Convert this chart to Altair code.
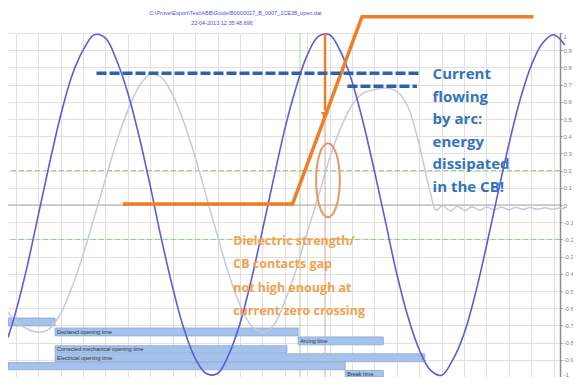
import altair as alt
import pandas as pd

# ---------------- data (time in ms, signals in p.u.) ----------------
t_current = [-0.7, 0, 1, 2, 3, 4, 5, 6, 7, 8, 9, 10, 11, 12, 13, 14, 15, 16, 17, 18, 19,
             20, 21, 22, 23, 24, 25, 26, 27, 28, 29, 30, 31, 32, 33, 34, 35, 36, 37, 38,
             39, 40, 41, 42, 43, 44, 45, 46, 47, 48, 49]
current = [-0.77, -0.62, -0.36, -0.06, 0.24, 0.52, 0.75, 0.90, 0.99, 0.97, 0.84, 0.65,
           0.40, 0.11, -0.20, -0.48, -0.72, -0.89, -0.98, -0.98, -0.87, -0.69, -0.44,
           -0.15, 0.15, 0.44, 0.68, 0.87, 0.98, 0.99, 0.89, 0.72, 0.48, 0.20, -0.10,
           -0.40, -0.65, -0.84, -0.96, -0.99, -0.90, -0.75, -0.52, -0.24, 0.06, 0.35,
           0.61, 0.81, 0.94, 0.99, 0.93]

t_voltage = [-0.7, 0, 1, 2, 3, 4, 5, 6, 7, 8, 9, 10, 11, 12, 13, 14, 15, 16, 17, 18, 19,
             20, 21, 22, 23, 24, 25, 26, 27, 28, 29, 30, 31, 32, 33, 34, 35, 36, 37, 37.5,
             38.1, 38.8, 39.4, 40.1, 40.7, 41.4, 42.0, 42.7, 43.3, 44.0, 44.6, 45.3, 45.9,
             46.6, 47.2, 47.9, 48.5, 49.0]
voltage = [-0.62, -0.68, -0.72, -0.74, -0.72, -0.63, -0.48, -0.29, -0.07, 0.15, 0.37,
           0.55, 0.69, 0.76, 0.74, 0.64, 0.48, 0.28, 0.05, -0.18, -0.40, -0.58, -0.70,
           -0.74, -0.70, -0.56, -0.38, -0.16, 0.05, 0.27, 0.45, 0.58, 0.65, 0.67, 0.68,
           0.66, 0.57, 0.35, 0.07, -0.03,
           -0.005, -0.035, -0.008, -0.032, -0.01, -0.03, -0.012, -0.028, -0.013, -0.027,
           -0.015, -0.025, -0.015, -0.025, -0.016, -0.024, -0.018, -0.02]

travel_t = [9.55, 24.7, 30.9, 46.2]
travel_v = [0.006, 0.006, 1.095, 1.095]

dash_t = [7.2, 29.6]
dash_t2 = [36.1, 35.8]
dash_v = [0.766, 0.69]

bar_labels = ["", "Declared opening time", "Arcing time",
              "Corrected mechanical opening time", "Electrical opening time", "", "Break time"]
bar_start = [-0.7, 3.5, 25.2, 3.5, 3.5, -0.7, 29.4]
bar_end = [3.5, 25.2, 32.8, 24.2, 36.5, 29.4, 32.8]
bar_top = [-0.657, -0.715, -0.767, -0.818, -0.865, -0.916, -0.962]
bar_bottom = [-0.703, -0.761, -0.813, -0.859, -0.911, -0.958, -1.0]

x_ticks = [0, 2, 4, 6, 8, 10, 12, 14, 16, 18, 20, 22, 24, 26, 28, 30, 32, 34, 36, 38, 40,
           42, 44, 46, 48]
y_ticks = [1, 0.9, 0.8, 0.7, 0.6, 0.5, 0.4, 0.3, 0.2, 0.1, 0, -0.1, -0.2, -0.3, -0.4,
           -0.5, -0.6, -0.7, -0.8, -0.9, -1]

title_lines = [r"C:\Prove\Export\Test\ABB\Guide\B0000017_B_0007_1CE38_open.dat",
               "22-04-2013 12:35:48.696"]
title_t = [19.6, 18.4]
title_v = [1.116, 1.058]

blue_note = "Current\nflowing\nby arc:\nenergy\ndissipated\nin the CB!"
orange_note = "Dielectric strength/\nCB contacts gap\nnot high enough at\ncurrent zero crossing"

# ---------------- styling ----------------
BLUE = "#5c5cd8"
GRAY = "#c8c8dc"
ORANGE = "#f07d28"
STEEL = "#2d62b0"

xs = alt.Scale(domain=[-0.7, 48.57], nice=False, zero=False)
ys = alt.Scale(domain=[-1, 1], nice=False, zero=False)
x_axis = alt.Axis(values=x_ticks, title=None, grid=True, gridColor="#e0e0e0",
                  labels=False, ticks=False, domain=False)
y_axis = alt.Axis(orient="right", values=y_ticks, title=None, grid=True,
                  gridColor="#e0e0e0", domain=True, domainColor="#8c8c8c",
                  domainWidth=1.5, ticks=True, tickColor="#8c8c8c", tickSize=2,
                  labelFontSize=6, labelColor="#808080", labelPadding=1,
                  labelOverlap=False, labelFlush=True, labelFont="Liberation Sans",
                  labelExpr="(datum.value < 0 ? '-' : '') + (abs(datum.value) > 0.95 ? '1' : (abs(datum.value) < 0.05 ? '0' : format(abs(datum.value), '.1f')))")


def X(f="t"):
    return alt.X(f + ":Q", scale=xs, axis=x_axis)


def Y(f="v"):
    return alt.Y(f + ":Q", scale=ys, axis=y_axis)


cur_df = pd.DataFrame({"t": t_current, "v": current})
vol_df = pd.DataFrame({"t": t_voltage, "v": voltage})
trav_df = pd.DataFrame({"t": travel_t, "v": travel_v})
dash_df = pd.DataFrame({"t": dash_t, "t2": dash_t2, "v": dash_v})
bar_df = pd.DataFrame({"t": bar_start, "t2": bar_end, "v": bar_top, "v2": bar_bottom,
                       "label": bar_labels})
bar_df["mid"] = (bar_df["v"] + bar_df["v2"]) / 2
title_df = pd.DataFrame({"t": title_t, "v": title_v, "label": title_lines})

zero_rule = alt.Chart(pd.DataFrame({"v": [0]})).mark_rule(
    color="#a8a8a8", strokeWidth=1).encode(y=Y())
green_h = alt.Chart(pd.DataFrame({"v": [0.2, -0.2]})).mark_rule(
    color="#94d07a", strokeDash=[5, 3], strokeWidth=1).encode(y=Y())
green_v = alt.Chart(pd.DataFrame({"t": [25.36]})).mark_rule(
    color="#a6dc8c", strokeWidth=1).encode(x=X())
pink_v = alt.Chart(pd.DataFrame({"t": [27.6]})).mark_rule(
    color="#d9a7a7", strokeWidth=1).encode(x=X())

bars = alt.Chart(bar_df).mark_rect(fill="#a4c2ea", stroke="#86a8d8", strokeWidth=0.8).encode(
    x=X(), x2="t2:Q", y=Y(), y2="v2:Q")
bar_text = alt.Chart(bar_df).mark_text(
    align="left", baseline="middle", dx=2, fontSize=5.5, color="#333333",
    font="Liberation Sans").encode(x=X(), y=Y("mid"), text="label:N")

gray_line = alt.Chart(vol_df).mark_line(color=GRAY, strokeWidth=1.5,
                                        interpolate="catmull-rom").encode(x=X(), y=Y())
blue_line = alt.Chart(cur_df).mark_line(color=BLUE, strokeWidth=1.6,
                                        interpolate="catmull-rom").encode(x=X(), y=Y())
orange_line = alt.Chart(trav_df).mark_line(color=ORANGE, strokeWidth=3.5).encode(x=X(), y=Y())

arrow_rule = alt.Chart(pd.DataFrame({"t": [27.6], "v": [1.0], "v2": [0.55]})).mark_rule(
    color=ORANGE, strokeWidth=2.5).encode(x=X(), y=Y(), y2="v2:Q")
arrow_head = alt.Chart(pd.DataFrame({"t": [27.6], "v": [0.52]})).mark_point(
    shape="triangle-down", filled=True, size=70, color=ORANGE, opacity=1).encode(x=X(), y=Y())

ellipse = alt.Chart(pd.DataFrame({"t": [27.86], "v": [0.144]})).mark_point(
    shape="M -0.32 0 A 0.32 1 0 1 1 0.32 0 A 0.32 1 0 1 1 -0.32 0 Z",
    size=5476, filled=False, stroke="#e39a64", strokeWidth=2, opacity=1).encode(x=X(), y=Y())

dashes = alt.Chart(dash_df).mark_rule(color=STEEL, strokeWidth=3.5,
                                      strokeDash=[10, 3]).encode(x=X(), x2="t2:Q", y=Y())

blue_text = alt.Chart(pd.DataFrame({"t": [37.2], "v": [0.761], "label": [blue_note]})).mark_text(
    align="left", baseline="middle", lineBreak="\n", lineHeight=22.6, fontSize=15,
    fontWeight="bold", font="Open Sans", color="#3373bd").encode(x=X(), y=Y(), text="label:N")
orange_text = alt.Chart(pd.DataFrame({"t": [19.4], "v": [-0.207], "label": [orange_note]})).mark_text(
    align="left", baseline="middle", lineBreak="\n", lineHeight=23.6, fontSize=12.5,
    fontWeight="bold", font="Open Sans", color="#f5a04e").encode(x=X(), y=Y(), text="label:N")

title_text = alt.Chart(title_df).mark_text(
    align="center", baseline="middle", fontSize=5.5, color="#4b4bf0",
    font="Liberation Sans").encode(x=X(), y=Y(), text="label:N")

chart = alt.layer(
    zero_rule, green_h, green_v, pink_v, bars, bar_text, gray_line, blue_line,
    orange_line, arrow_rule, arrow_head, ellipse, dashes, blue_text, orange_text, title_text
).properties(
    width=552, height=344,
    autosize=alt.AutoSizeParams(type="none"),
    padding={"left": 0, "top": 25, "right": 13, "bottom": 0},
    background="white",
).configure_view(strokeWidth=0)

chart.save("out.html", embed_options={"renderer": "svg", "actions": False})
